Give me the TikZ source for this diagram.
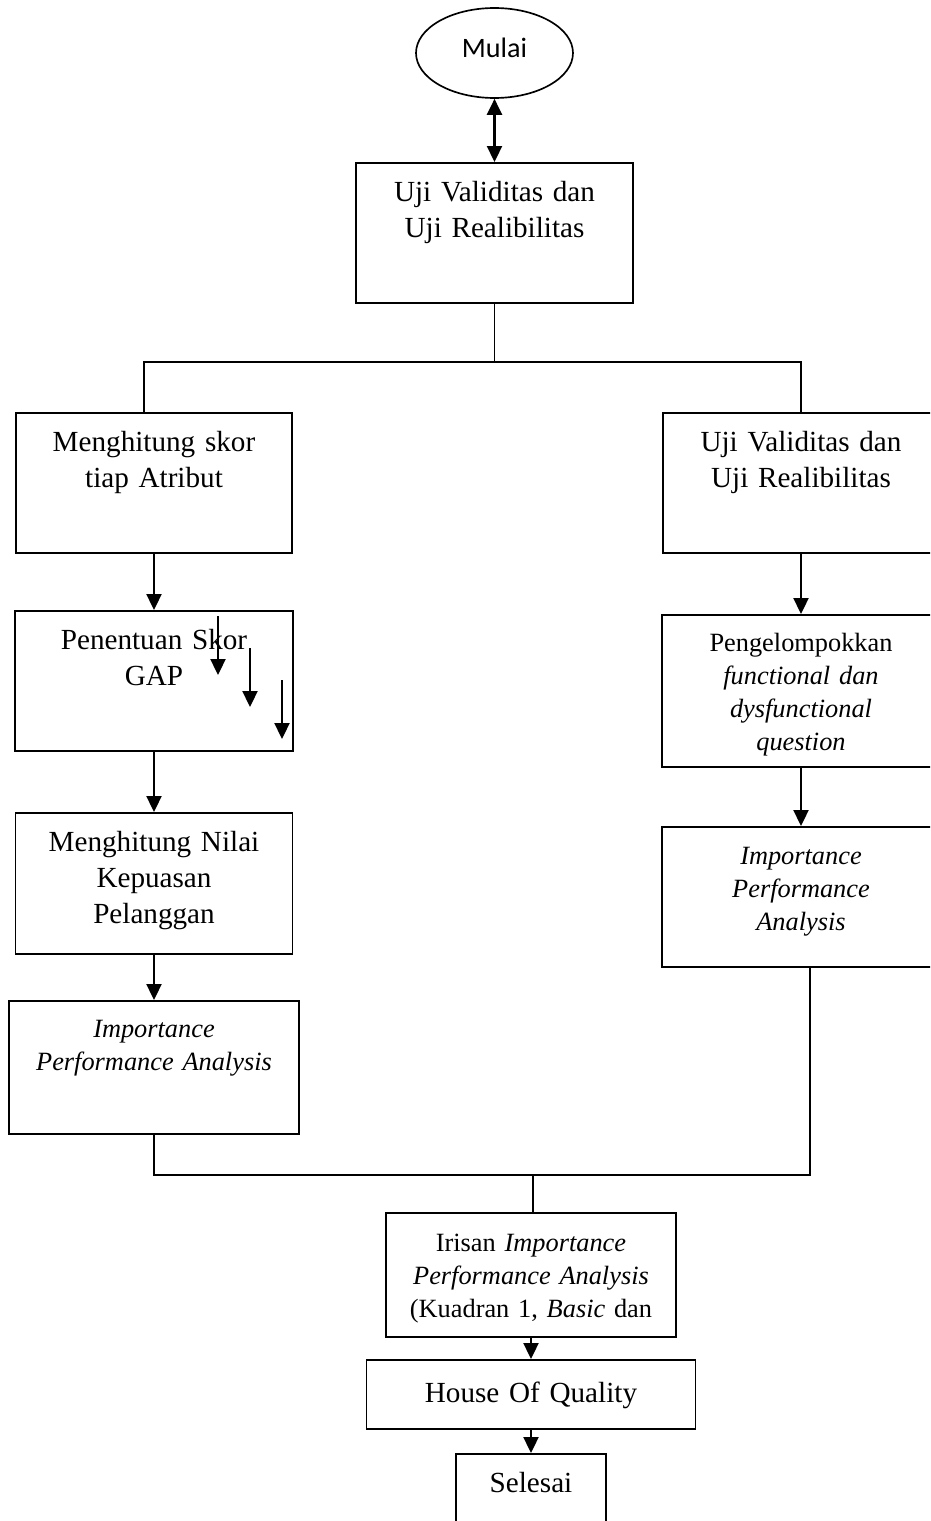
\documentclass[tikz,border=0pt]{standalone}
\usepackage{fontspec}
\setmainfont{Liberation Serif}
\newfontfamily\calibri{Carlito}
\usetikzlibrary{shapes.geometric, arrows.meta, positioning, calc}

\begin{document}
\begin{tikzpicture}[
  x=0.02cm, y=-0.02cm,
  pbox/.style={draw, line width=0.95pt, inner sep=0pt, align=center, anchor=north, text height=0.78cm, font=\fontsize{16.6}{20.4}\selectfont},
  sbox/.style={pbox, font=\fontsize{15}{18.7}\selectfont},
  flow/.style={line width=1.3pt, -{Triangle[length=0.32cm, width=0.3cm]}},
  link/.style={line width=0.95pt}
]
  \useasboundingbox (0,0) rectangle (930,1521);
  \clip (0,0) rectangle (930,1521);

  \node[ellipse, draw, line width=0.95pt, minimum width=3.14cm, minimum height=1.8cm, inner sep=0pt, text depth=0.2cm, font=\calibri\fontsize{16}{19}\selectfont] (mulai) at (494.5,53) {Mulai};
  \node[pbox, text width=5.54cm, text depth=2.02cm] (uji) at (494.5,162) {Uji Validitas dan\\Uji Realibilitas};

  % kiri
  \node[pbox, text width=5.52cm, text depth=2.02cm] (skor) at (154,412) {Menghitung skor\\tiap Atribut};
  \node[pbox, text width=5.56cm, text depth=2.02cm] (gap) at (154,610) {Penentuan Skor\\GAP};
  \node[pbox, text width=5.54cm, text depth=2.04cm] (nilai) at (154,812) {Menghitung Nilai\\Kepuasan\\Pelanggan};
  \node[sbox, text width=5.8cm, text height=0.74cm, text depth=1.92cm] (ipal) at (154,1000) {\textit{Importance}\\\textit{Performance Analysis}};

  % kanan
  \node[pbox, text width=5.52cm, text depth=2.02cm] (ujik) at (801,412) {Uji Validitas dan\\Uji Realibilitas};
  \node[sbox, text width=5.56cm, text height=0.74cm, text depth=2.3cm] (kelompok) at (801,614) {Pengelompokkan\\\textit{functional dan}\\\textit{dysfunctional}\\\textit{question}};
  \node[sbox, text width=5.56cm, text height=0.76cm, text depth=2.04cm] (ipak) at (801,826) {\textit{Importance}\\\textit{Performance}\\\textit{Analysis}};

  % bawah
  \node[sbox, text width=5.8cm, text depth=1.7cm] (irisan) at (531,1212) {Irisan \textit{Importance}\\\textit{Performance Analysis}\\(Kuadran 1, \textit{Basic} dan};
  \node[pbox, text width=6.58cm, text height=0.86cm, text depth=0.52cm] (hoq) at (531,1359) {House Of Quality};
  \node[pbox, text width=3cm, text depth=1.22cm] (selesai) at (531,1453) {Selesai};

  \coordinate (jc) at (494.5,362);
  \coordinate (jl) at (144,362);
  \coordinate (jr) at (801,362);
  \coordinate (ml) at (154,1175);
  \coordinate (mc) at (533,1175);
  \coordinate (mr) at (810,1175);
  \coordinate (s1) at (218,616);
  \coordinate (t1) at (218,675);
  \coordinate (s2) at (250,648);
  \coordinate (t2) at (250,707);
  \coordinate (s3) at (282,680);
  \coordinate (t3) at (282,739);

  \draw[line width=1.3pt, {Triangle[length=0.32cm, width=0.3cm]}-{Triangle[length=0.32cm, width=0.3cm]}] (mulai) -- (uji);
  \draw[link] (uji) -- (jc);
  \draw[link] (jl |- skor.north) -- (jl) -- (jr) -- (jr |- ujik.north);

  \draw[flow] (skor) -- (gap);
  \draw[flow] (gap) -- (nilai);
  \draw[flow] (nilai) -- (ipal);
  \draw[flow] (s1) -- (t1);
  \draw[flow] (s2) -- (t2);
  \draw[flow] (s3) -- (t3);

  \draw[flow] (ujik) -- (kelompok);
  \draw[flow] (kelompok) -- (ipak);

  \draw[link] (ipal) -- (ml) -- (mr) -- (mr |- ipak.south);
  \draw[link] (mc) -- (mc |- irisan.north);
  \draw[flow] (irisan) -- (hoq);
  \draw[flow] (hoq) -- (selesai);
\end{tikzpicture}
\end{document}
